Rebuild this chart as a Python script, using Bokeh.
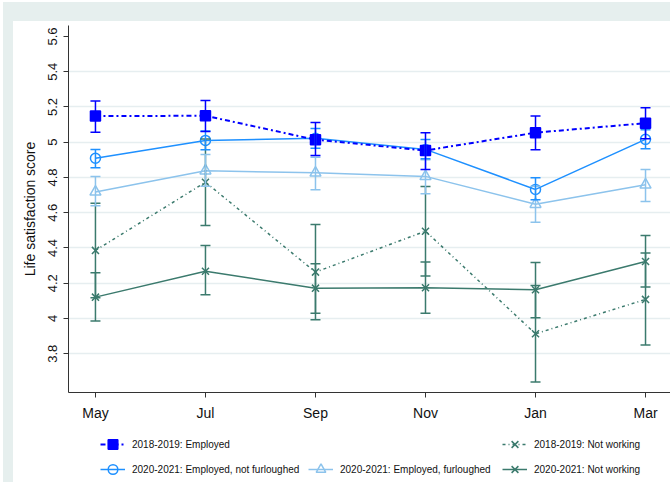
from bokeh.plotting import figure
from bokeh.models import (ColumnDataSource, Whisker, TeeHead, Legend, LegendItem,
                          FixedTicker)
from bokeh.layouts import column
from bokeh.embed import file_html
from bokeh.resources import INLINE

# Survey waves (x axis)
months = ["May", "Jul", "Sep", "Nov", "Jan", "Mar"]
xpos = list(range(len(months)))

# 2018-2019: Employed
emp18_mean = [5.148, 5.150, 5.014, 4.953, 5.054, 5.108]
emp18_lo = [5.057, 5.061, 4.925, 4.845, 4.957, 5.020]
emp18_hi = [5.233, 5.237, 5.112, 5.054, 5.148, 5.196]

# 2020-2021: Employed, not furloughed
notfur_mean = [4.909, 5.010, 5.022, 4.959, 4.732, 5.016]
notfur_lo = [4.855, 4.957, 4.965, 4.906, 4.673, 4.963]
notfur_hi = [4.959, 5.063, 5.078, 5.015, 4.798, 5.070]

# 2020-2021: Employed, furloughed
fur_mean = [4.718, 4.838, 4.826, 4.806, 4.648, 4.758]
fur_lo = [4.640, 4.750, 4.730, 4.708, 4.546, 4.664]
fur_hi = [4.806, 4.930, 4.915, 4.900, 4.750, 4.845]

# 2018-2019: Not working
nw18_mean = [4.386, 4.773, 4.263, 4.495, 3.913, 4.108]
nw18_lo = [4.118, 4.528, 3.993, 4.241, 3.639, 3.850]
nw18_hi = [4.654, 5.018, 4.533, 4.749, 4.187, 4.371]

# 2020-2021: Not working
nw20_mean = [4.121, 4.268, 4.172, 4.174, 4.163, 4.323]
nw20_lo = [3.985, 4.134, 4.030, 4.030, 4.004, 4.178]
nw20_hi = [4.259, 4.414, 4.310, 4.320, 4.318, 4.470]

y_ticks = [3.8, 4.0, 4.2, 4.4, 4.6, 4.8, 5.0, 5.2, 5.4, 5.6]
grid_ticks = [3.8, 4.0, 4.2, 4.4, 4.6, 4.8, 5.0, 5.2, 5.4]

FONT = "Liberation Sans"
TEAL = "#3b7a6d"

# Series styles: (color, marker, size, dash, filled, line width)
styles = {
    "emp18": ("#0000ff", "square", 10, "5 3 2 3", True, 2),
    "notfur": ("#1e90ff", "circle", 10, "solid", False, 1.5),
    "fur": ("#8cc3ec", "triangle", 11, "solid", False, 1.5),
    "nw18": (TEAL, "x", 10, "3 3 1 3", False, 1.5),
    "nw20": (TEAL, "x", 10, "solid", False, 1.5),
}
series_data = {
    "emp18": (emp18_mean, emp18_lo, emp18_hi),
    "notfur": (notfur_mean, notfur_lo, notfur_hi),
    "fur": (fur_mean, fur_lo, fur_hi),
    "nw18": (nw18_mean, nw18_lo, nw18_hi),
    "nw20": (nw20_mean, nw20_lo, nw20_hi),
}

p = figure(width=657, height=408, output_backend="svg", toolbar_location=None,
           x_range=(-0.245, 5.227), y_range=(3.580, 5.662),
           min_border_left=55, min_border_right=0, min_border_top=4,
           min_border_bottom=37)
p.outline_line_color = None
p.background_fill_color = "white"
p.border_fill_color = "white"

p.xgrid.visible = False
p.ygrid.ticker = FixedTicker(ticks=grid_ticks)
p.ygrid.grid_line_color = "#e6eef0"
p.ygrid.grid_line_width = 1.5

p.xaxis.ticker = FixedTicker(ticks=xpos)
p.xaxis.major_label_overrides = {i: m for i, m in zip(xpos, months)}
p.yaxis.ticker = FixedTicker(ticks=y_ticks)
p.yaxis.major_label_overrides = {t: ("%g" % t) for t in y_ticks}
p.yaxis.major_label_orientation = "vertical"
p.yaxis.axis_label = "Life satisfaction score"

for ax in (p.xaxis, p.yaxis):
    ax.axis_line_color = "#333333"
    ax.major_tick_line_color = "#333333"
    ax.minor_tick_line_color = None
    ax.major_tick_in = 0
    ax.major_tick_out = 5
    ax.major_label_text_font = FONT
    ax.major_label_text_color = "#111111"
p.xaxis.major_label_text_font_size = "14px"
p.xaxis.major_label_standoff = 7
p.yaxis.major_label_text_font_size = "13px"
p.yaxis.major_label_standoff = 6
p.yaxis.axis_label_text_font = FONT
p.yaxis.axis_label_text_font_size = "14px"
p.yaxis.axis_label_text_font_style = "normal"
p.yaxis.axis_label_text_color = "#111111"
p.yaxis.axis_label_standoff = 8


def draw_series(fig, key, whiskers=True):
    color, marker, size, dash, fill, width = styles[key]
    mean, lo, hi = series_data[key]
    src = ColumnDataSource(dict(x=xpos, y=mean, lower=lo, upper=hi))
    if whiskers:
        fig.add_layout(Whisker(source=src, base="x", lower="lower", upper="upper",
                               line_color=color, line_width=1.5, level="glyph",
                               upper_head=TeeHead(size=10, line_color=color, line_width=1.5),
                               lower_head=TeeHead(size=10, line_color=color, line_width=1.5)))
    lr = fig.line("x", "y", source=src, line_color=color, line_width=width,
                  line_dash=dash)
    sr = fig.scatter("x", "y", source=src, marker=marker, size=size,
                     line_color=color, line_width=1.5,
                     fill_color=color if fill else None)
    return [lr, sr]


for key in ["nw20", "nw18", "fur", "notfur", "emp18"]:
    draw_series(p, key)

# Legend strip underneath the chart; its own ranges keep the proxy glyphs out of view
leg = figure(width=657, height=53, output_backend="svg", toolbar_location=None,
             x_axis_type=None, y_axis_type=None, x_range=(100, 101), y_range=(100, 101),
             min_border_left=55, min_border_right=0, min_border_top=0,
             min_border_bottom=0)
leg.outline_line_color = None
leg.grid.visible = False
leg.background_fill_color = "white"
leg.border_fill_color = "white"


def legend_entry(label, key, x, y):
    rends = draw_series(leg, key, whiskers=False)
    lg = Legend(items=[LegendItem(label=label, renderers=rends)],
                location=(x, y), orientation="horizontal",
                padding=0, margin=0, spacing=0,
                border_line_color=None, background_fill_alpha=0,
                glyph_width=25, glyph_height=24, label_height=24,
                label_standoff=7, label_text_font=FONT,
                label_text_font_size="10px", label_text_color="#111111")
    leg.add_layout(lg, "center")


legend_entry("2018-2019: Employed", "emp18", 32, 26)
legend_entry("2018-2019: Not working", "nw18", 434, 26)
legend_entry("2020-2021: Employed, not furloughed", "notfur", 32, 1)
legend_entry("2020-2021: Employed, furloughed", "fur", 240, 1)
legend_entry("2020-2021: Not working", "nw20", 434, 1)

page = column(p, leg, spacing=0,
              styles={"background-color": "white",
                      "margin-top": "2px", "margin-left": "3px",
                      "border-top": "19px solid #e6efee",
                      "border-left": "10px solid #e6efee"})

open("out.html", "w").write(file_html(page, INLINE))
